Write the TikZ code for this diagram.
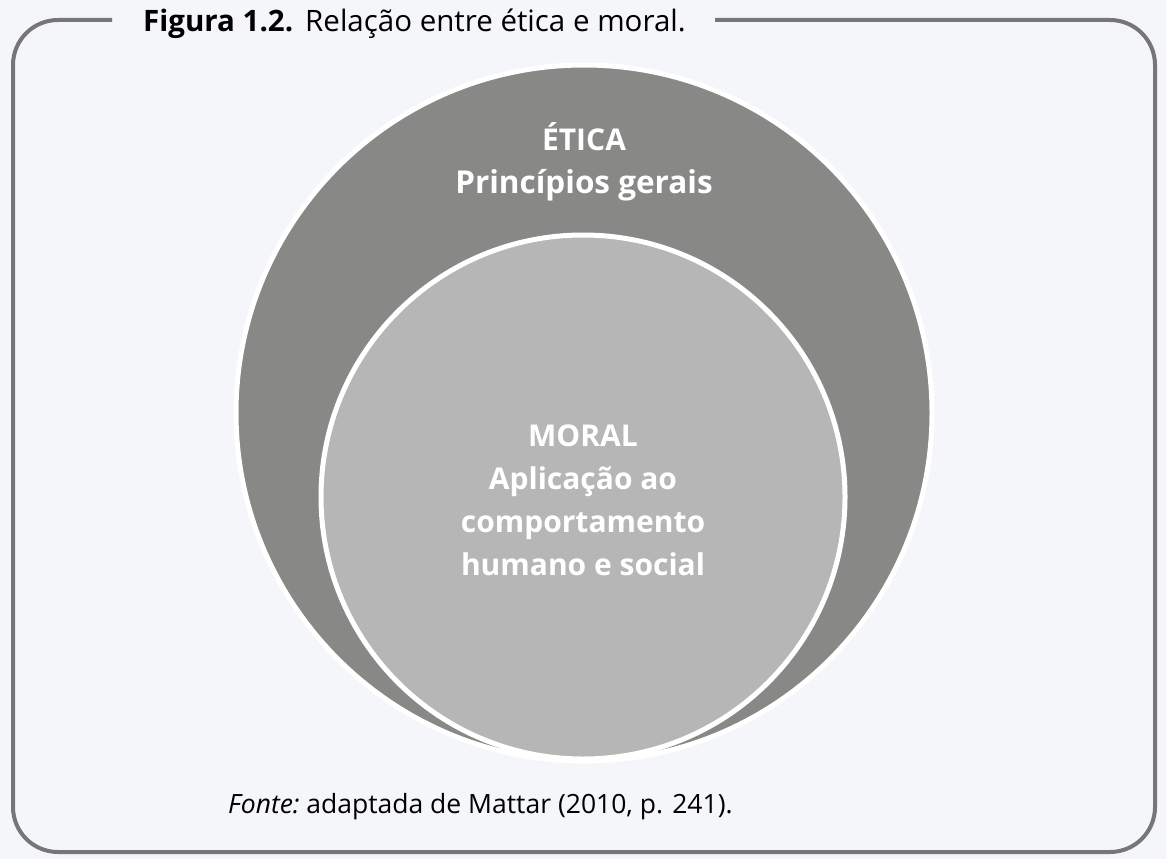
\documentclass[tikz,border=0pt]{standalone}
\usepackage{fontspec}
\setmainfont{Open Sans}
\definecolor{bg}{HTML}{F5F6FA}
\definecolor{frame}{HTML}{767676}
\definecolor{outerfill}{HTML}{888886}
\definecolor{innerfill}{HTML}{B7B6B7}
\tikzset{
  circtext/.style={text=white, font=\fontsize{30}{43}\selectfont\bfseries, align=center},
  ring/.style={draw=white, line width=5pt}
}
\begin{document}
\begin{tikzpicture}[x=1pt,y=-1pt]
\fill[bg] (0,0) rectangle (1166,859);
\useasboundingbox (0,0) rectangle (1166,859);
\draw[frame, line width=4pt, rounded corners=45pt] (112,20) -- (13,20) -- (13,852) -- (1155,852) -- (1155,20) -- (715,20);
\node[anchor=base west, inner sep=0pt, font=\fontsize{29.5}{30}\selectfont] (title) at (143,32) {\textbf{Figura 1.2.}\hspace{12pt}Relação entre ética e moral.};
\fill[outerfill, ring] (584,413) circle (348);
\fill[innerfill, ring] (583,497) circle (262);
\node[circtext] (etica) at (584,162) {ÉTICA\\{\fontsize{31.5}{43}\selectfont Princípios gerais}};
\node[circtext] (moral) at (583,500) {MORAL\\Aplicação ao\\comportamento\\humano e social};
\node[anchor=base west, inner sep=0pt, font=\fontsize{26.5}{30}\selectfont] (fonte) at (228,813) {{\itshape Fonte:}\hspace{-2.5pt} adaptada de Mattar (2010, p. 241).};
\end{tikzpicture}
\end{document}
